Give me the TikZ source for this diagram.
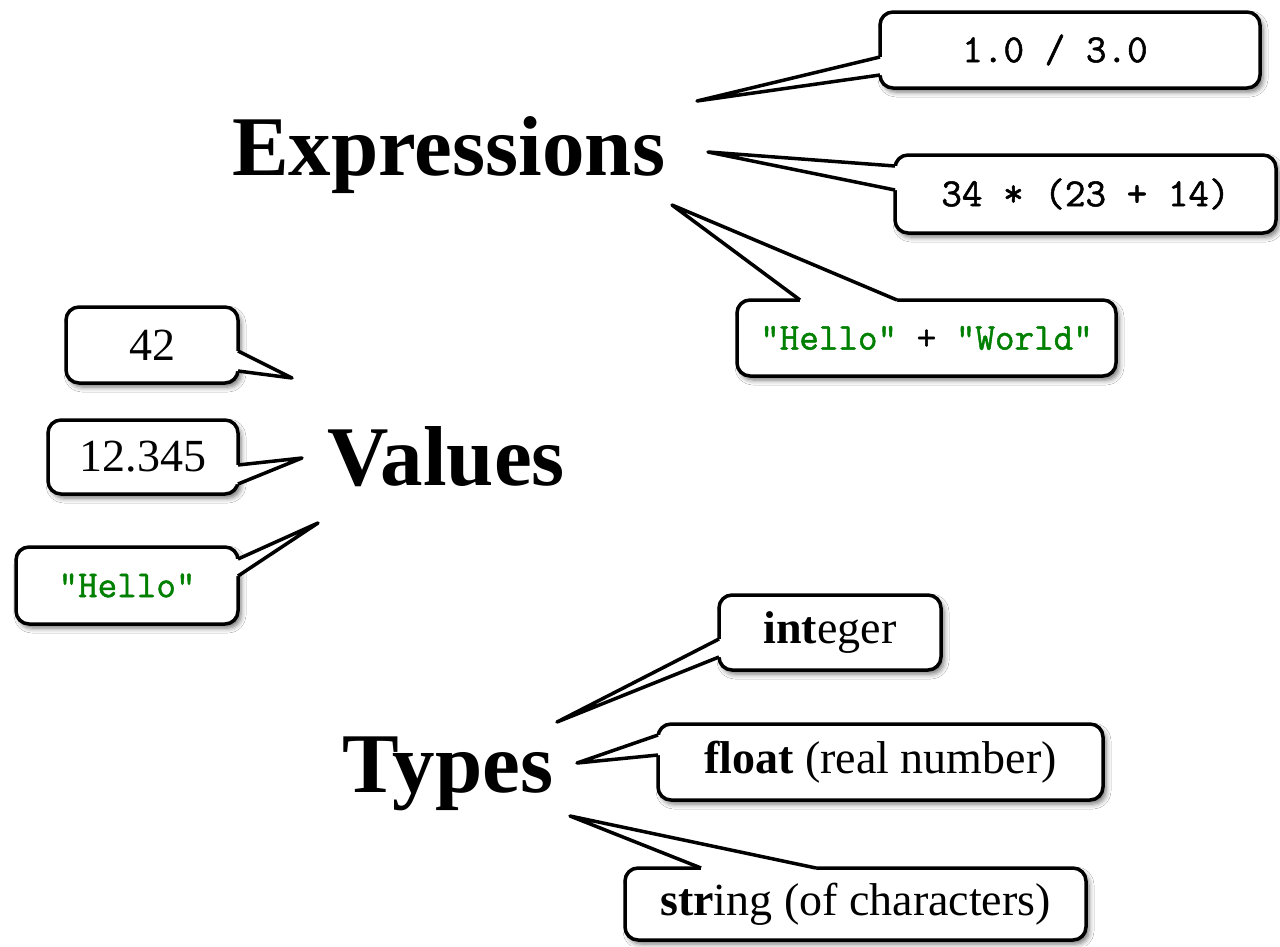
\documentclass[tikz,border=0pt]{standalone}
\usepackage{fontspec}
\setmainfont{Liberation Serif}
\newfontfamily\codefont{Latin Modern Mono}[FakeBold=1.3]
\usetikzlibrary{calc,shadows.blur}
\definecolor{codegreen}{rgb}{0,0.5,0}
\newcommand\callptr[5]{%
  \fill[white] ($(#1)+(#4,#5)$) -- (#1) -- (#2) -- (#3) -- ($(#3)+(#4,#5)$) -- cycle;
  \draw[ptr] (#1) -- (#2) -- (#3);}
\tikzset{
  bubble/.style={draw, line width=3.5pt, rounded corners=13pt, fill=white, inner sep=0pt,
    blur shadow={shadow xshift=3pt, shadow yshift=-4pt, shadow blur radius=5pt, shadow opacity=55}},
  boxtext/.style={font=\fontsize{46}{50}\selectfont},
  codetext/.style={font=\fontsize{40}{44}\selectfont\codefont},
  codesmall/.style={font=\fontsize{38}{42}\selectfont\codefont},
  ptr/.style={line width=3.5pt, line join=round},
  bigword/.style={font=\fontsize{85}{90}\selectfont\bfseries, inner sep=0pt, anchor=base west},
}
\begin{document}
\begin{tikzpicture}[x=1pt,y=-1pt]
\useasboundingbox[fill=white] (0,0) rectangle (1280,946);

% boxes
\node[bubble, codetext, minimum width=380pt, minimum height=76pt] (b1) at (1070,50) {1.0 / 3.0\hspace*{30pt}};
\node[bubble, codetext, minimum width=381pt, minimum height=78pt] (b2) at (1085.5,194) {34 * (23 + 14)};
\node[bubble, codesmall, minimum width=379pt, minimum height=76pt] (b3) at (926.5,338) {\textcolor{codegreen}{"Hello"} + \textcolor{codegreen}{"World"}};
\node[bubble, boxtext, minimum width=172pt, minimum height=76pt] (b4) at (152,345) {42};
\node[bubble, boxtext, minimum width=190pt, minimum height=74pt] (b5) at (143,457) {12.345};
\node[bubble, codesmall, minimum width=222pt, minimum height=77pt] (b6) at (127,585.5) {\textcolor{codegreen}{"Hello"}};
\node[bubble, boxtext, minimum width=222pt, minimum height=75pt] (b7) at (830,632.5) {\textbf{int}eger};
\node[bubble, boxtext, minimum width=445pt, minimum height=76pt] (b8) at (880.5,762) {\textbf{float} (real number)};
\node[bubble, boxtext, minimum width=461pt, minimum height=72pt] (b9) at (855.5,904) {\textbf{str}ing (of characters)};

% pointer coordinates
\coordinate (a1) at (880,57);  \coordinate (c1) at (880,75);  \coordinate (t1) at (697,101);
\coordinate (a2) at (895,166); \coordinate (c2) at (895,190); \coordinate (t2) at (708,152);
\coordinate (a3) at (800,300); \coordinate (c3) at (897,300); \coordinate (t3) at (672,205);
\coordinate (a4) at (238,351); \coordinate (c4) at (238,371); \coordinate (t4) at (292,378);
\coordinate (a5) at (238,465); \coordinate (c5) at (238,484); \coordinate (t5) at (302,458);
\coordinate (a6) at (238,559); \coordinate (c6) at (238,576); \coordinate (t6) at (318,523);
\coordinate (a7) at (719,639); \coordinate (c7) at (719,657); \coordinate (t7) at (557,722);
\coordinate (a8) at (658,735); \coordinate (c8) at (658,755); \coordinate (t8) at (577,763);
\coordinate (a9) at (701,868); \coordinate (c9) at (816,868); \coordinate (t9) at (570,816);

\callptr{a1}{t1}{c1}{4}{0}
\callptr{a2}{t2}{c2}{4}{0}
\callptr{a3}{t3}{c3}{0}{4}
\callptr{a4}{t4}{c4}{-4}{0}
\callptr{a5}{t5}{c5}{-4}{0}
\callptr{a6}{t6}{c6}{-4}{0}
\callptr{a7}{t7}{c7}{4}{0}
\callptr{a8}{t8}{c8}{4}{0}
\callptr{a9}{t9}{c9}{0}{4}

% big words
\node[bigword] (expr) at (232,175) {Expressions};
\node[bigword] (vals) at (327,485) {Values};
\node[bigword] (types) at (342,792) {Types};
\end{tikzpicture}
\end{document}
